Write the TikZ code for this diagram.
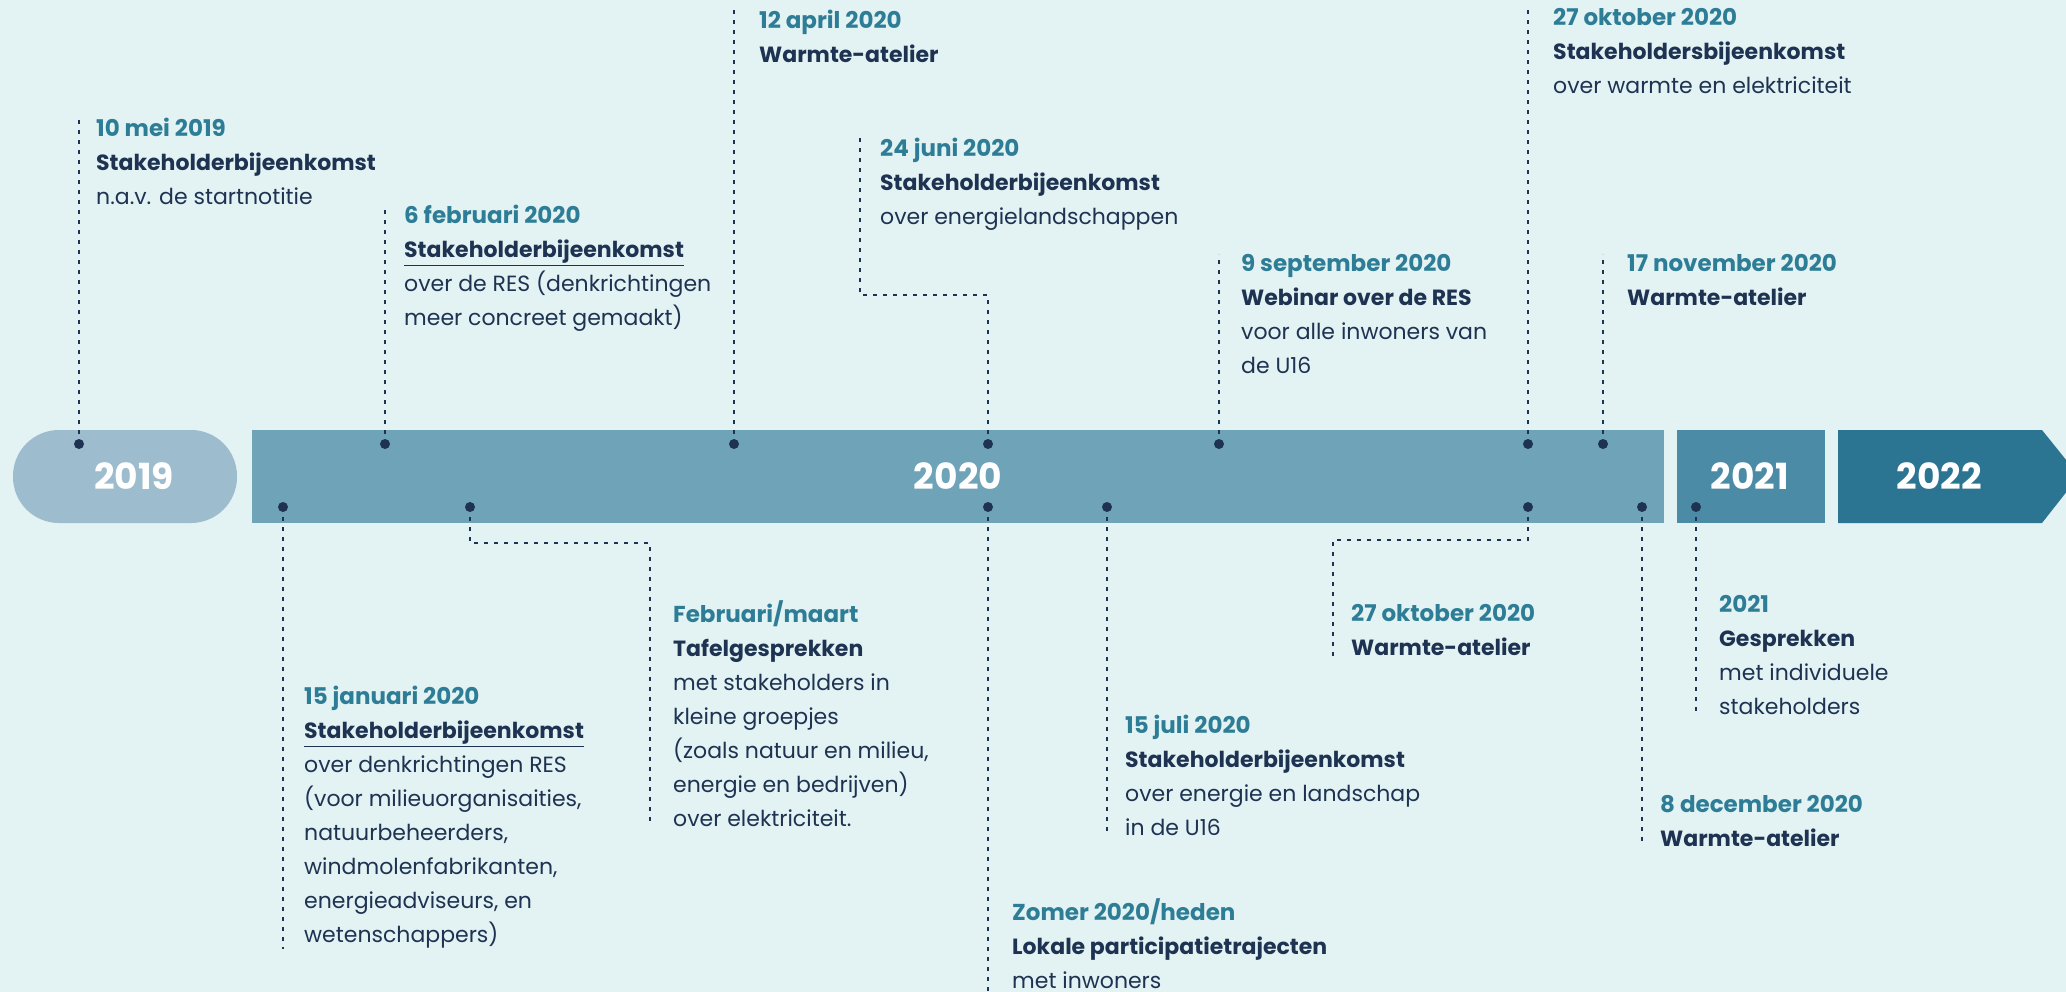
\documentclass[tikz,border=0pt]{standalone}
\usepackage{fontspec}
\setmainfont{Poppins}
\usetikzlibrary{calc}

\definecolor{bgcol}{HTML}{E3F2F3}
\definecolor{c19}{HTML}{9DBDCE}
\definecolor{c20}{HTML}{6FA3B8}
\definecolor{c21}{HTML}{4C8BA6}
\definecolor{c22}{HTML}{2C7592}
\definecolor{datecol}{HTML}{2E7D96}
\definecolor{navy}{HTML}{1E3352}

\newcommand{\evdate}[1]{\textcolor{datecol}{\fontsize{23}{34}\selectfont\bfseries #1}}

\begin{document}
\begin{tikzpicture}
  [
    x=1pt, y=-1pt,
    ev/.style =
      {anchor=north west, align=left, inner sep=0pt, text=navy,
       font=\fontsize{22}{34}\selectfont},
    yr/.style =
      {text=white, inner sep=0pt, font=\fontsize{36}{36}\selectfont\bfseries},
    dotline/.style =
      {draw=navy, line width=2.2pt, dash pattern=on 4pt off 6pt},
    pin/.style =
      {fill=navy}
  ]
  \useasboundingbox (0,0) rectangle (2066,992);
  \clip (0,0) rectangle (2066,992);
  \fill[bgcol] (0,0) rectangle (2066,992);

  % years
  \fill[c19, rounded corners=46pt] (237,430) -- (13,430) -- (13,523) -- (237,523) -- cycle;
  \fill[c20] (252,430) rectangle (1664,523);
  \fill[c21] (1677,430) rectangle (1825,523);
  \fill[c22] (1838,430) -- (2042,430) -- (2079,476) -- (2042,523) -- (1838,523) -- cycle;
  \node [yr] at ( 134,476) (y19) {2019};
  \node [yr] at ( 958,476) (y20) {2020};
  \node [yr] at (1750,476) (y21) {2021};
  \node [yr] at (1939,476) (y22) {2022};

  % pins on the bar
  \coordinate (pmei) at (  79,444);
  \coordinate (pfeb) at ( 385,444);
  \coordinate (papr) at ( 734,444);
  \coordinate (pjun) at ( 988,444);
  \coordinate (psep) at (1219,444);
  \coordinate (pokt) at (1528,444);
  \coordinate (pnov) at (1603,444);
  \coordinate (pjan) at ( 283,507);
  \coordinate (pfm)  at ( 470,507);
  \coordinate (pzom) at ( 988,507);
  \coordinate (pjul) at (1107,507);
  \coordinate (pokb) at (1528,507);
  \coordinate (pdec) at (1642,507);
  \coordinate (pj21) at (1696,507);

  % above the bar
  \node [ev] at (  96,118) (mei) {\evdate{10 mei 2019}\\ \textbf{Stakeholderbijeenkomst}\\ n.a.v. de startnotitie};
  \node [ev] at ( 404,205) (feb) {\evdate{6 februari 2020}\\ \textbf{\underline{Stakeholderbijeenkomst}}\\ over de RES (denkrichtingen\\ meer concreet gemaakt)};
  \node [ev] at ( 759, 10) (apr) {\evdate{12 april 2020}\\ \textbf{Warmte-atelier}};
  \node [ev] at ( 880,138) (jun) {\evdate{24 juni 2020}\\ \textbf{Stakeholderbijeenkomst}\\ over energielandschappen};
  \node [ev] at (1241,254) (sep) {\evdate{9 september 2020}\\ \textbf{Webinar over de RES}\\ voor alle inwoners van\\ de U16};
  \node [ev] at (1553,  8) (okt) {\evdate{27 oktober 2020}\\ \textbf{Stakeholdersbijeenkomst}\\ over warmte en elektriciteit};
  \node [ev] at (1627,254) (nov) {\evdate{17 november 2020}\\ \textbf{Warmte-atelier}};

  % below the bar
  \node [ev] at ( 304,686) (jan) {\evdate{15 januari 2020}\\ \textbf{\underline{Stakeholderbijeenkomst}}\\ over denkrichtingen RES\\ (voor milieuorganisaities,\\ natuurbeheerders,\\ windmolenfabrikanten,\\ energieadviseurs, en\\ wetenschappers)};
  \node [ev] at ( 673,600) (fm)  {\evdate{Februari/maart}\\ \textbf{Tafelgesprekken}\\ met stakeholders in\\ kleine groepjes\\ (zoals natuur en milieu,\\ energie en bedrijven)\\ over elektriciteit.};
  \node [ev] at (1012,898) (zom) {\evdate{Zomer 2020/heden}\\ \textbf{Lokale participatietrajecten}\\ met inwoners};
  \node [ev] at (1125,715) (jul) {\evdate{15 juli 2020}\\ \textbf{Stakeholderbijeenkomst}\\ over energie en landschap\\ in de U16};
  \node [ev] at (1351,604) (okb) {\evdate{27 oktober 2020}\\ \textbf{Warmte-atelier}};
  \node [ev] at (1660,795) (dec) {\evdate{8 december 2020}\\ \textbf{Warmte-atelier}};
  \node [ev] at (1719,595) (j21) {\evdate{2021}\\ \textbf{Gesprekken}\\ met individuele\\ stakeholders};

  \coordinate (kjun) at ( 860,295);
  \coordinate (kfm)  at ( 650,543);
  \coordinate (kokb) at (1333,540);

  \draw[dotline] (pmei) -- (pmei |- mei.north);
  \draw[dotline] (pfeb) -- (pfeb |- feb.north);
  \draw[dotline] (papr) -- (papr |- apr.north);
  \draw[dotline] (pjun) |- (kjun) -- (kjun |- jun.north);
  \draw[dotline] (psep) -- (psep |- sep.north);
  \draw[dotline] (pokt) -- (pokt |- okt.north);
  \draw[dotline] (pnov) -- (pnov |- nov.north);
  \draw[dotline] (pjan) -- (pjan |- jan.south);
  \draw[dotline] (pfm)  |- (kfm) -- (kfm |- fm.south);
  \draw[dotline] (pzom) -- (pzom |- 0,992);
  \draw[dotline] (pjul) -- (pjul |- jul.south);
  \draw[dotline] (pokb) |- (kokb) -- (kokb |- okb.south);
  \draw[dotline] (pdec) -- (pdec |- dec.south);
  \draw[dotline] (pj21) -- (pj21 |- j21.south);

  \foreach \p in {pmei,pfeb,papr,pjun,psep,pokt,pnov,pjan,pfm,pzom,pjul,pokb,pdec,pj21}
    \fill[pin] (\p) circle (5pt);
\end{tikzpicture}
\end{document}
